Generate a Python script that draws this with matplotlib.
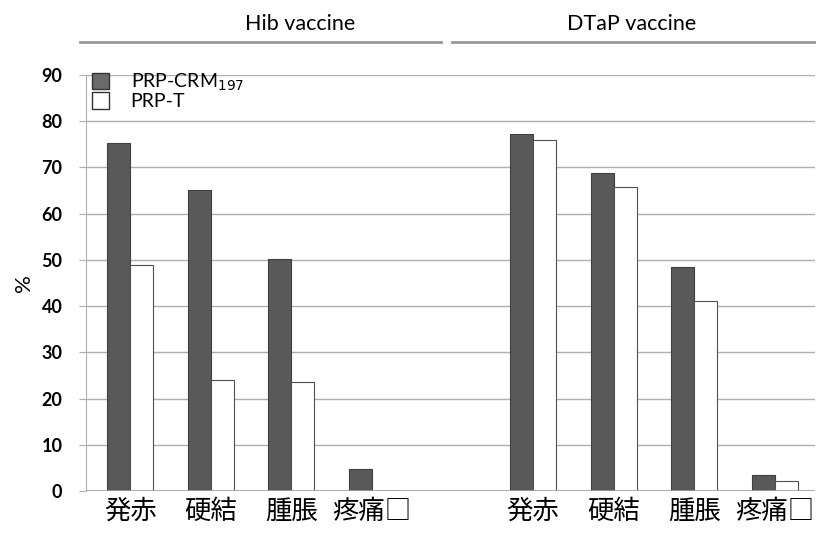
import numpy as np
import matplotlib
matplotlib.use("Agg")
from matplotlib import pyplot as plt
from matplotlib.patches import Rectangle
from matplotlib.lines import Line2D

plt.rcParams['font.family'] = ['Lato', 'Noto Sans CJK JP', 'DejaVu Sans']

symptoms = ['発赤', '硬結', '腫脹', '疼痛□']
groups = ['Hib vaccine', 'DTaP vaccine']
series = ['PRP-CRM$_{197}$', 'PRP-T']
hib_crm = [75.2, 65.2, 50.1, 4.7]
hib_t = [49.0, 24.1, 23.5, 0.0]
dtap_crm = [77.3, 68.7, 48.5, 3.5]
dtap_t = [76.0, 65.8, 41.0, 2.2]
yticks = [0, 10, 20, 30, 40, 50, 60, 70, 80, 90]

fig = plt.figure(figsize=(8.16, 5.42), dpi=100)
ax = fig.add_axes([86 / 816, 1 - 491 / 542, (815 - 86) / 816, (491 - 75) / 542])

# slot 4 is left empty between the two vaccine groups
pos = np.array([0, 1, 2, 3, 5, 6, 7, 8])
crm = hib_crm + dtap_crm
prpt = hib_t + dtap_t
w = 0.285

ax.bar(pos - w / 2, crm, width=w, color='#595959', edgecolor='#404040', linewidth=0.8, zorder=3)
ax.bar(pos + w / 2, prpt, width=w, color='white', edgecolor='#505050', linewidth=0.8, zorder=3)

ax.set_xlim(-0.55, 8.5)
ax.set_ylim(0, 90)
ax.set_yticks(yticks)
ax.yaxis.grid(True, color='#b0b0b0', linewidth=1.0, zorder=0)
ax.set_axisbelow(True)
for s in ['top', 'right', 'bottom']:
    ax.spines[s].set_visible(False)
ax.spines['left'].set_color('#b0b0b0')
ax.tick_params(axis='y', length=5, color='#b0b0b0', labelsize=13, pad=12)
for lab in ax.get_yticklabels():
    lab.set_fontweight('bold')
ax.axhline(0, color='#a0a0a0', linewidth=1.2, zorder=4)

ax.set_xticks(pos)
ax.set_xticklabels(symptoms * 2, fontsize=19, family=['Noto Sans CJK JP', 'DejaVu Sans'])
ax.tick_params(axis='x', length=0, pad=5)
ax.set_ylabel('%', fontsize=16, labelpad=5)

# group headers with rules underneath
fig.text(300 / 816, 1 - 24 / 542, groups[0], ha='center', va='center', fontsize=15.5)
fig.text(632 / 816, 1 - 24 / 542, groups[1], ha='center', va='center', fontsize=15.5)
fig.add_artist(Line2D([80 / 816, 441 / 816], [1 - 42 / 542] * 2, color='#999999', linewidth=2))
fig.add_artist(Line2D([452 / 816, 815 / 816], [1 - 42 / 542] * 2, color='#999999', linewidth=2))

handles = [Rectangle((0, 0), 1, 1, facecolor='#6b6b6b', edgecolor='#333333'),
           Rectangle((0, 0), 1, 1, facecolor='white', edgecolor='#333333')]
ax.legend(handles, series, loc='upper left', bbox_to_anchor=(-0.008, 1.035), frameon=False,
          fontsize=14, handlelength=0.9, handleheight=0.9, labelspacing=-0.05,
          handletextpad=1.1, borderaxespad=0.2)

fig.savefig('out.png', dpi=100)
